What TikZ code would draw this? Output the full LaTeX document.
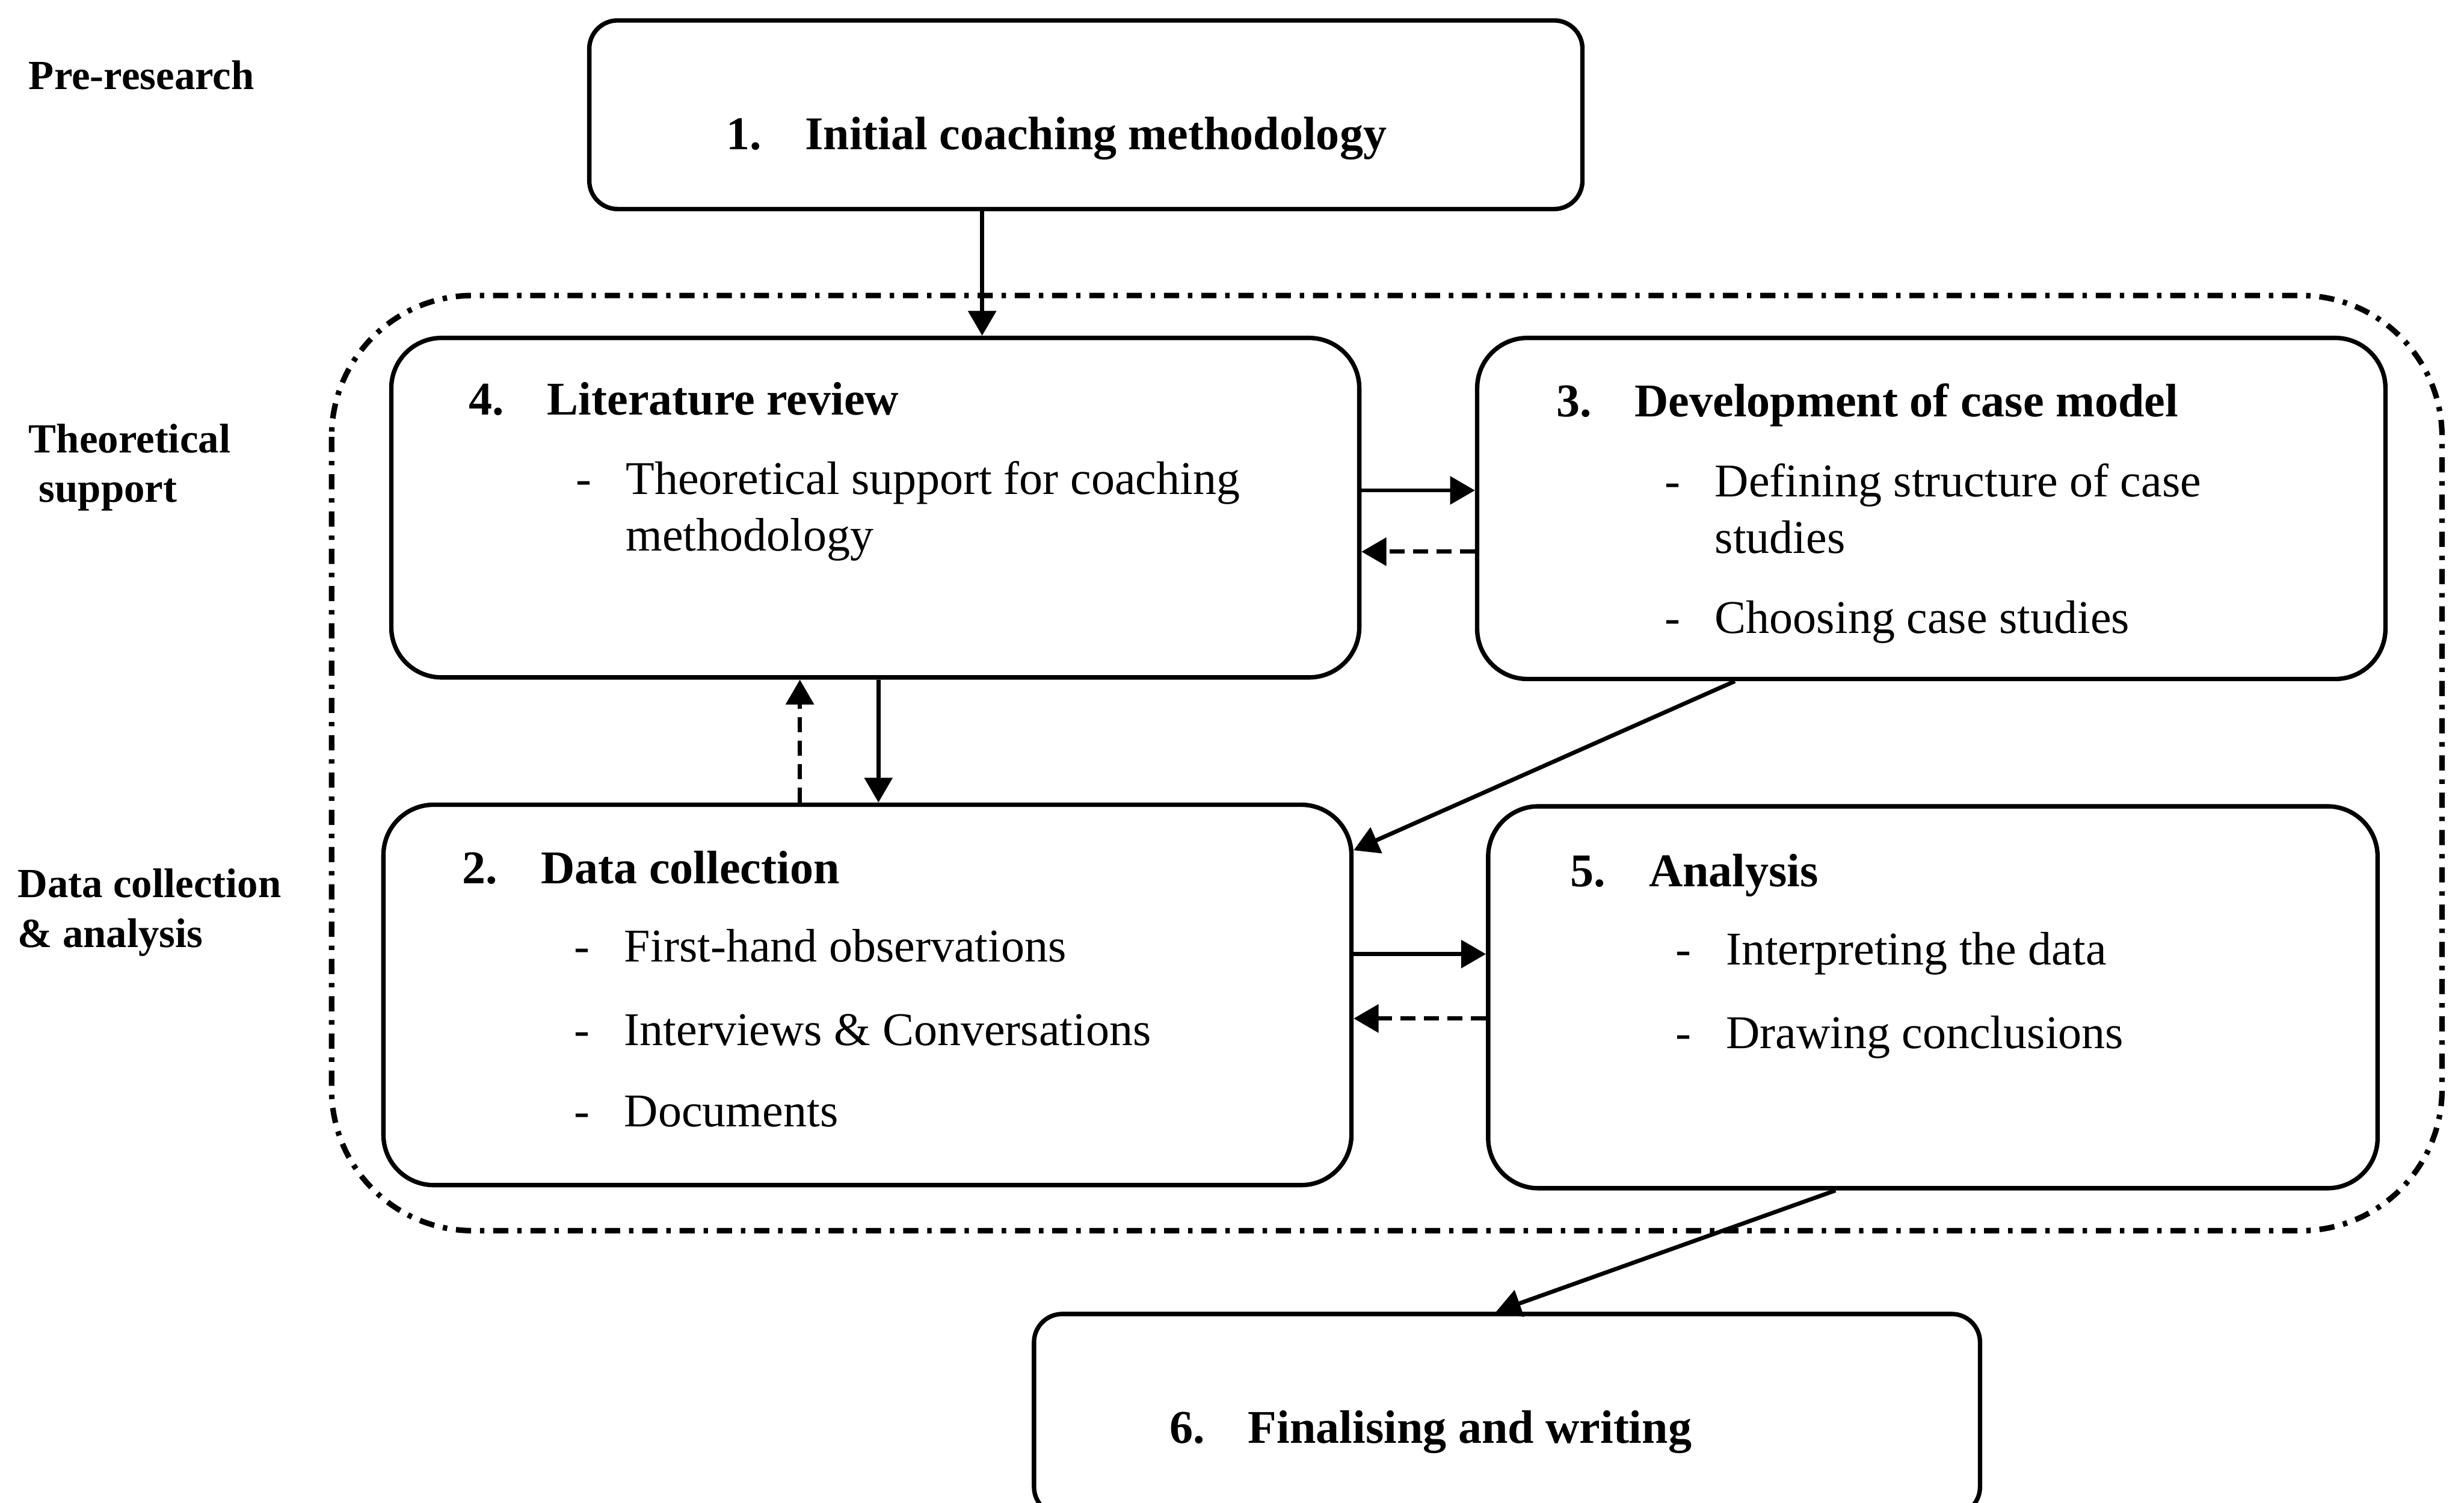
\documentclass[tikz,border=0pt]{standalone}
\usepackage{fontspec}
\setmainfont{Liberation Serif}
\usetikzlibrary{arrows.meta,fit}
\newcommand{\numlab}[1]{\makebox[1cm][l]{#1}}
\newcommand{\dashlab}{\makebox[0.64cm][l]{-}}
\newcommand{\lines}[1]{\begin{tabular}[t]{@{}l@{}}#1\end{tabular}}
\begin{document}
\begin{tikzpicture}[x=0.02cm,y=-0.02cm,
    box/.style={draw,line width=1.6pt,rounded corners=0.64cm,inner sep=0pt},
    txt/.style={anchor=base west,inner sep=0pt,font=\fontsize{17}{20.4}\selectfont},
    head/.style={txt,font=\fontsize{17}{20.4}\selectfont\bfseries},
    side/.style={anchor=base west,inner sep=0pt,font=\fontsize{15}{18}\selectfont\bfseries},
    arr/.style={-{Triangle[length=9pt,width=10pt]},line width=1.5pt},
    back/.style={arr,dash pattern=on 5.5pt off 3pt}]
    \useasboundingbox (0,0) rectangle (1568,956);
    % phase frame
    \draw[line width=2pt,rounded corners=1.8cm,dash pattern=on 5.5pt off 3.2pt on 1.6pt off 3.2pt] (211,188) rectangle (1554,783);
    % boxes
    \node[box,rounded corners=0.36cm,fit={(375,13)(1007,133)}] (initial) {};
    \node[box,fit={(249,215)(865,431)}] (litrev) {};
    \node[box,fit={(940,215)(1518,432)}] (casemodel) {};
    \node[box,fit={(244,512)(860,754)}] (datacoll) {};
    \node[box,fit={(947,513)(1513,756)}] (analysis) {};
    \node[box,rounded corners=0.36cm,fit={(658,836)(1260,964)}] (final) {};
    % phases
    \node[side] (pre) at (18,57) {Pre-research};
    \node[side] (theo) at (18,288) {\lines{Theoretical\\\hspace*{0.13cm}support}};
    \node[side] (dca) at (11,571) {\lines{Data collection\\\& analysis}};
    % box texts
    \node[head] (t1) at (462,95) {\numlab{1.}Initial coaching methodology};
    \node[head] (t4) at (298,264) {\numlab{4.}Literature review};
    \node[txt] (t4a) at (366,314.5) {\lines{\dashlab Theoretical support for coaching\\\hspace*{0.64cm}methodology}};
    \node[head] (t3) at (990,265) {\numlab{3.}Development of case model};
    \node[txt] (t3a) at (1059,316) {\lines{\dashlab Defining structure of case\\\hspace*{0.64cm}studies}};
    \node[txt] (t3b) at (1059,403) {\dashlab Choosing case studies};
    \node[head] (t2) at (294,562) {\numlab{2.}Data collection};
    \node[txt] (t2a) at (365,612) {\dashlab First-hand observations};
    \node[txt] (t2b) at (365,665) {\dashlab Interviews \& Conversations};
    \node[txt] (t2c) at (365,717) {\dashlab Documents};
    \node[head] (t5) at (999,564) {\numlab{5.}Analysis};
    \node[txt] (t5a) at (1066,614) {\dashlab Interpreting the data};
    \node[txt] (t5b) at (1066,667) {\dashlab Drawing conclusions};
    \node[head] (t6) at (744,918) {\numlab{6.}Finalising and writing};
    % connectors
    \draw[arr] (initial.south -| 625,0) -- (litrev.north -| 625,0);
    \draw[arr] (litrev.east |- 0,312) -- (casemodel.west |- 0,312);
    \draw[back] (casemodel.west |- 0,351) -- (litrev.east |- 0,351);
    \draw[arr] (litrev.south -| 559,0) -- (datacoll.north -| 559,0);
    \draw[back] (datacoll.north -| 509,0) -- (litrev.south -| 509,0);
    \draw[arr] (casemodel.south -| 1104,0) -- (datacoll.east |- 0,541);
    \draw[arr] (datacoll.east |- 0,607) -- (analysis.west |- 0,607);
    \draw[back] (analysis.west |- 0,648) -- (datacoll.east |- 0,648);
    \draw[arr] (analysis.south -| 1168,0) -- (final.north -| 952,0);
\end{tikzpicture}
\end{document}
